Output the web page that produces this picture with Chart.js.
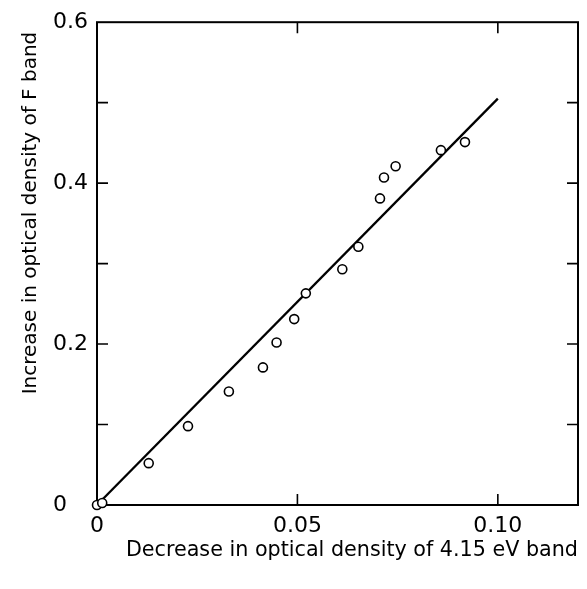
<!DOCTYPE html>
<html lang="en">
<head>
<meta charset="UTF-8" />
<title>F band vs 4.15 eV band</title>
<script src="https://cdn.jsdelivr.net/npm/chart.js"></script>
<style>
  html, body { margin: 0; padding: 0; background: #fff; }
  #wrap { width: 587px; height: 589px; }
</style>
</head>
<body>
<div id="wrap"><canvas id="grafico"></canvas></div>
<script>
  // measured points: decrease of 4.15 eV band (x), increase of F band (y)
  const decrease415 = [0, 0.0013, 0.0129, 0.0227, 0.0329, 0.0414, 0.0448, 0.0492, 0.0521, 0.0612, 0.0652, 0.0706, 0.0716, 0.0745, 0.0858, 0.0918];
  const increaseF   = [0, 0.0025, 0.052, 0.098, 0.141, 0.171, 0.202, 0.231, 0.263, 0.293, 0.321, 0.381, 0.407, 0.421, 0.441, 0.451];

  // fitted straight line
  const fitX = [0, 0.10];
  const fitY = [0, 0.505];

  const xTicks = [0, 0.05, 0.10];
  const xTickLabels = ['0', '0.05', '0.10'];
  const yTicks = [0, 0.1, 0.2, 0.3, 0.4, 0.5, 0.6];
  const yTickLabels = ['0', '', '0.2', '', '0.4', '', '0.6'];

  const xTitle = 'Decrease in optical density of 4.15 eV band';
  const yTitle = 'Increase in optical density of F band';

  const FONT = '"DejaVu Sans", sans-serif';

  // box with inward tick marks on all four sides + axis titles
  const moldura = {
    id: 'moldura',
    beforeDatasetsDraw(chart) {
      const { ctx, chartArea: a, scales: { x, y } } = chart;
      const tl = 11;
      ctx.save();
      ctx.strokeStyle = '#000';
      ctx.lineWidth = 2;
      ctx.strokeRect(a.left, a.top, a.right - a.left, a.bottom - a.top);
      ctx.lineWidth = 1.6;
      ctx.beginPath();
      xTicks.forEach(v => {
        if (v === 0) return;
        const px = x.getPixelForValue(v);
        ctx.moveTo(px, a.bottom); ctx.lineTo(px, a.bottom - tl);
        ctx.moveTo(px, a.top); ctx.lineTo(px, a.top + tl);
      });
      yTicks.forEach(v => {
        if (v === 0 || v === 0.6) return;
        const py = y.getPixelForValue(v);
        ctx.moveTo(a.left, py); ctx.lineTo(a.left + tl, py);
        ctx.moveTo(a.right, py); ctx.lineTo(a.right - tl, py);
      });
      ctx.stroke();
      ctx.restore();
    },
    afterDraw(chart) {
      const ctx = chart.ctx;
      ctx.save();
      ctx.fillStyle = '#000';
      ctx.textBaseline = 'middle';

      // x title, fitted to its width in the original
      ctx.font = '20px ' + FONT;
      let s = 20 * 453 / ctx.measureText(xTitle).width;
      ctx.font = s.toFixed(1) + 'px ' + FONT;
      ctx.textAlign = 'right';
      ctx.fillText(xTitle, 578, 551);

      // y title, rotated
      ctx.font = '20px ' + FONT;
      s = 20 * 363 / ctx.measureText(yTitle).width;
      ctx.font = s.toFixed(1) + 'px ' + FONT;
      ctx.translate(31, 213);
      ctx.rotate(-Math.PI / 2);
      ctx.textAlign = 'center';
      ctx.fillText(yTitle, 0, 0);
      ctx.restore();
    }
  };

  new Chart(document.getElementById('grafico'), {
    type: 'scatter',
    data: {
      datasets: [
        {
          label: 'ajuste',
          data: fitX.map((v, i) => ({ x: v, y: fitY[i] })),
          showLine: true,
          borderColor: '#000',
          borderWidth: 2.3,
          pointRadius: 0,
          clip: false,
          order: 2
        },
        {
          label: 'medidas',
          data: decrease415.map((v, i) => ({ x: v, y: increaseF[i] })),
          pointStyle: 'circle',
          pointRadius: 4.5,
          pointBorderWidth: 1.6,
          pointBorderColor: '#000',
          pointBackgroundColor: '#fff',
          clip: false,
          order: 1
        }
      ]
    },
    options: {
      responsive: true,
      maintainAspectRatio: false,
      animation: false,
      layout: { padding: { left: 53, right: 9, top: 22, bottom: 50 } },
      plugins: { legend: { display: false }, tooltip: { enabled: false } },
      scales: {
        x: {
          type: 'linear',
          min: 0,
          max: 0.12,
          afterBuildTicks: sc => { sc.ticks = xTicks.map(v => ({ value: v })); },
          afterFit: sc => { sc.height = 34; },
          ticks: {
            autoSkip: false,
            maxRotation: 0,
            padding: 8,
            color: '#000',
            font: { family: FONT, size: 22 },
            callback: (v, i) => xTickLabels[i]
          },
          grid: { display: false, drawTicks: false },
          border: { display: false }
        },
        y: {
          type: 'linear',
          min: 0,
          max: 0.6,
          afterBuildTicks: sc => { sc.ticks = yTicks.map(v => ({ value: v })); },
          afterFit: sc => { sc.width = 44; },
          ticks: {
            autoSkip: false,
            padding: 9,
            crossAlign: 'far',
            color: '#000',
            font: { family: FONT, size: 22 },
            callback: (v, i) => yTickLabels[i]
          },
          grid: { display: false, drawTicks: false },
          border: { display: false }
        }
      }
    },
    plugins: [moldura]
  });
</script>
</body>
</html>
